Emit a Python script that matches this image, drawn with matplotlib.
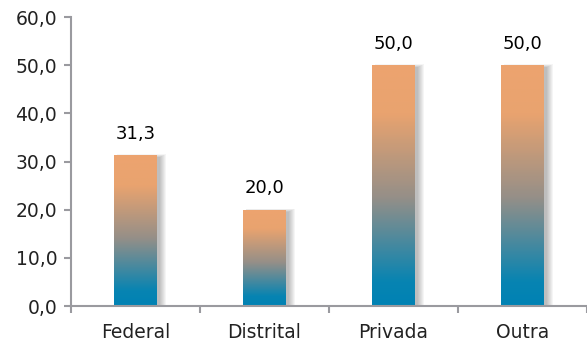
import numpy as np
import matplotlib
matplotlib.use('Agg')
import matplotlib.pyplot as plt
from matplotlib.colors import LinearSegmentedColormap
from matplotlib.patches import Rectangle

# Dados
categorias = ['Federal', 'Distrital', 'Privada', 'Outra']
valores = [31.3, 20.0, 50.0, 50.0]
rotulos = ['31,3', '20,0', '50,0', '50,0']
yticks = [0, 10, 20, 30, 40, 50, 60]

plt.rcParams.update({
    'font.family': 'DejaVu Sans',
    'font.size': 13,
})

grad = LinearSegmentedColormap.from_list('grad', [
    (0.0, '#0082B4'),
    (0.10, '#0784B2'),
    (0.45, '#958F88'),
    (0.80, '#E9A36F'),
    (1.0, '#EDA46F'),
])

fig = plt.figure(figsize=(5.87, 3.49), dpi=100)
ax = fig.add_axes([0.121, 0.123, 0.879, 0.828])

x = np.arange(len(categorias))
barras = ax.bar(x, valores, width=0.33, color='none', zorder=3)

px_x = 1 / 129.0   # um pixel em unidades de x
px_y = 60 / 289.0  # um pixel em unidades de y

g = np.linspace(0, 1, 256).reshape(-1, 1)
for b in barras:
    x0, y0 = b.get_x(), b.get_y()
    w, h = b.get_width(), b.get_height()
    # sombra suave (lado direito)
    for i in range(7):
        ax.add_patch(Rectangle((x0 + 3 * px_x, y0),
                               w + i * px_x, h + (i * 0.5 - 2) * px_y,
                               facecolor='#000000', alpha=0.04,
                               edgecolor='none', zorder=2))
    im = ax.imshow(g, cmap=grad, origin='lower', aspect='auto',
                   extent=[x0, x0 + w, y0, y0 + h], zorder=3)
    im.set_clip_path(b)

for xi, v, r in zip(x, valores, rotulos):
    ax.annotate(r, (xi, v), xytext=(0, 9), textcoords='offset points',
                ha='center', va='bottom', fontsize=13, color='#000000')

ax.set_xlim(-0.5, len(categorias) - 0.5)
ax.set_ylim(0, 60)
ax.set_yticks(yticks)
ax.set_yticklabels([f'{t:.1f}'.replace('.', ',') for t in yticks])
ax.set_xticks(x)
ax.set_xticklabels(categorias)
ax.set_xticks(np.arange(len(categorias) + 1) - 0.5, minor=True)
ax.tick_params(axis='x', which='major', length=0, pad=12, labelsize=13.5, colors='#222222')
ax.tick_params(axis='x', which='minor', length=5, width=1.5, color='#9a9a9f')
ax.tick_params(axis='y', length=5, width=1.5, color='#9a9a9f', labelsize=13.5,
               labelcolor='#222222', pad=5)

for s in ['top', 'right']:
    ax.spines[s].set_visible(False)
for s in ['left', 'bottom']:
    ax.spines[s].set_color('#9a9a9f')
    ax.spines[s].set_linewidth(1.5)
    ax.spines[s].set_zorder(4)

plt.savefig('out.png', dpi=100)
